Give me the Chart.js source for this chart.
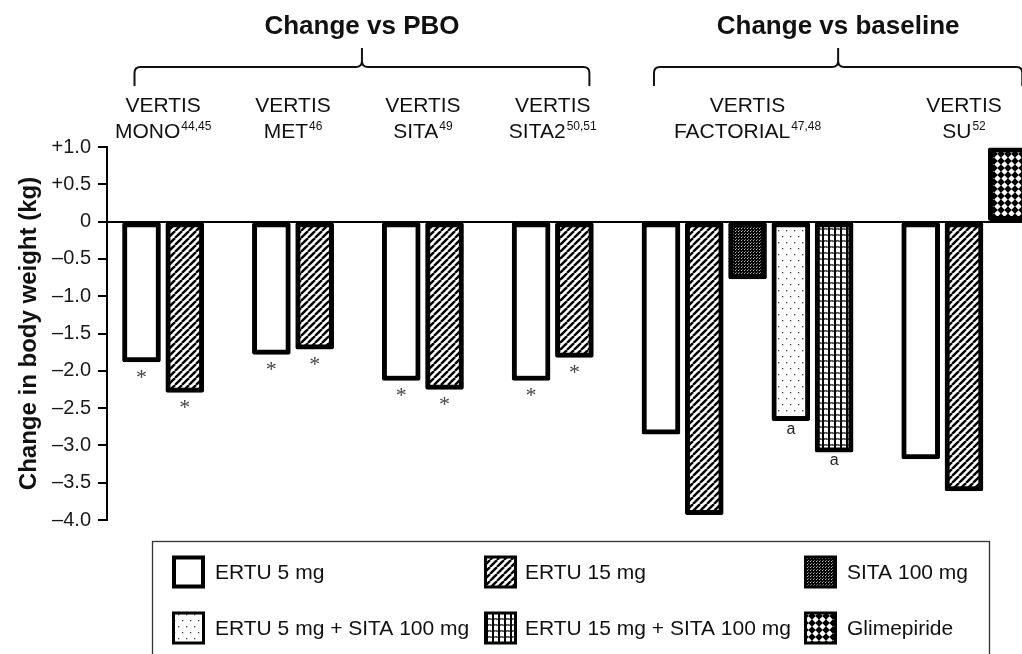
<!DOCTYPE html>
<html>
<head>
<meta charset="utf-8">
<script src="https://cdn.jsdelivr.net/npm/chart.js@4.4.1/dist/chart.umd.min.js"></script>
<style>
html,body{margin:0;padding:0;background:#fff;overflow:hidden}
#wrap{width:1022px;height:654px}
</style>
</head>
<body>
<div id="wrap"><canvas id="grafico" width="1022" height="654"></canvas></div>
<script>
// studies along the x axis
const studies=['MONO','MET','SITA','SITA2','FACTORIAL','SU'];
const studyRefs=['44,45','46','49','50,51','47,48','52'];
const headers=['Change vs PBO','Change vs baseline'];
const headerStudies=[[0,3],[4,5]];
const treatments=['ERTU 5 mg','ERTU 15 mg','SITA 100 mg','ERTU 5 mg + SITA 100 mg','ERTU 15 mg + SITA 100 mg','Glimepiride'];

// change in body weight (kg) per study, null = arm not in that study
const ertu5=[-1.88,-1.78,-2.13,-2.13,-2.85,-3.18];
const ertu15=[-2.29,-1.71,-2.25,-1.82,-3.93,-3.61];
const sita100=[null,null,null,null,-0.77,null];
const ertu5Sita=[null,null,null,null,-2.67,null];
const ertu15Sita=[null,null,null,null,-3.09,null];
const glimepiride=[null,null,null,null,null,0.99];

// marks under the bars
const ertu5Marks=['*','*','*','*','',''];
const ertu15Marks=['*','*','*','*','',''];
const ertu5SitaMarks=['','','','','a',''];
const ertu15SitaMarks=['','','','','a',''];

const yTicks=[1,0.5,0,-0.5,-1,-1.5,-2,-2.5,-3,-3.5,-4];

const FONT='"Liberation Sans", Arial, sans-serif';
Chart.defaults.font.family=FONT;

const canvas=document.getElementById('grafico');
const ctx0=canvas.getContext('2d');

// small tiles used as bar fills
function padrao(w,h,draw){
  const c=document.createElement('canvas'); c.width=w; c.height=h;
  const g=c.getContext('2d'); draw(g,w,h);
  return ctx0.createPattern(c,'repeat');
}
const hachura=padrao(7,7,(g,w,h)=>{
  g.fillStyle='#fff'; g.fillRect(0,0,w,h);
  g.strokeStyle='#000'; g.lineWidth=2.4;
  [-w,0,w].forEach(o=>{ g.beginPath(); g.moveTo(o,h); g.lineTo(o+w,0); g.stroke(); });
});
const escuro=padrao(3,3,(g,w,h)=>{
  g.fillStyle='#000'; g.fillRect(0,0,w,h);
  g.fillStyle='#bbb'; g.fillRect(0,0,1,1); g.fillStyle='#777'; g.fillRect(1,2,1,1);
});
const pontos=padrao(8,12,(g,w,h)=>{
  g.fillStyle='#fff'; g.fillRect(0,0,w,h);
  g.fillStyle='#444'; g.fillRect(2,2,1.3,1.3); g.fillRect(6,8,1.3,1.3);
});
const xadrez=padrao(6,6,(g,w,h)=>{
  g.fillStyle='#fff'; g.fillRect(0,0,w,h);
  g.fillStyle='#555'; g.fillRect(0,0,w,2);
  g.fillStyle='#999'; g.fillRect(1,0,1,1); g.fillRect(3,1,1,1); g.fillRect(5,0,1,1);
  g.fillStyle='#000'; g.fillRect(0,0,2,h);
});
const losangos=padrao(7,7,(g,w,h)=>{
  g.fillStyle='#000'; g.fillRect(0,0,w,h);
  g.fillStyle='#fff'; g.beginPath();
  g.moveTo(3.5,0.3); g.lineTo(6.7,3.5); g.lineTo(3.5,6.7); g.lineTo(0.3,3.5); g.closePath(); g.fill();
});

const series=[ertu5,ertu15,sita100,ertu5Sita,ertu15Sita,glimepiride];
const marks=[ertu5Marks,ertu15Marks,null,ertu5SitaMarks,ertu15SitaMarks,null];
const fills=['#fff',hachura,escuro,pontos,xadrez,losangos];

// slot index of each bar: bars of a study side by side, one empty slot between studies
const slots=series.map(()=>[]);
let pos=0;
studies.forEach((s,i)=>{
  series.forEach((arr,k)=>{ if(arr[i]!==null){ slots[k][i]=pos; pos++; } });
  pos++;
});

const datasets=series.map((arr,k)=>({
  label:treatments[k],
  data:arr.map((v,i)=>v===null?null:{x:slots[k][i],y:v,study:i}).filter(Boolean),
  marks:marks[k],
  backgroundColor:fills[k],
  borderColor:'#000',
  borderWidth:5,
  borderRadius:2,
  borderSkipped:false,
  barThickness:38,
  grouped:false
}));

// headers, brackets, study names, marks and legend
const rotulos={id:'rotulos', afterDraw(chart){
  const ctx=chart.ctx;
  const xs=studies.map(()=>[]);
  ctx.save();
  chart.data.datasets.forEach((ds,k)=>{
    chart.getDatasetMeta(k).data.forEach((el,j)=>{
      const st=ds.data[j].study;
      xs[st].push(el.x);
      const m=ds.marks&&ds.marks[st];
      if(!m) return;
      ctx.textAlign='center'; ctx.textBaseline='alphabetic';
      if(m==='*'){ ctx.fillStyle='#444'; ctx.font='22px "Liberation Serif", serif'; ctx.fillText(m,el.x,el.y+22); }
      else { ctx.fillStyle='#222'; ctx.font='16px '+FONT; ctx.fillText(m,el.x,el.y+13); }
    });
  });

  // study labels
  studies.forEach((s,i)=>{
    const cx=(Math.min(...xs[i])+Math.max(...xs[i]))/2;
    ctx.fillStyle='#111'; ctx.textBaseline='alphabetic'; ctx.textAlign='center';
    ctx.font='21px '+FONT; ctx.fillText('VERTIS',cx,112);
    const w1=ctx.measureText(s).width;
    ctx.font='12px '+FONT; const w2=ctx.measureText(studyRefs[i]).width;
    const x0=cx-(w1+w2+1)/2;
    ctx.textAlign='left';
    ctx.font='21px '+FONT; ctx.fillText(s,x0,138);
    ctx.font='12px '+FONT; ctx.fillText(studyRefs[i],x0+w1+1,130);
  });

  // headers with curly brackets
  headers.forEach((h,n)=>{
    const [a,b]=headerStudies[n];
    let lo=Infinity, hi=-Infinity;
    for(let i=a;i<=b;i++){ lo=Math.min(lo,...xs[i]); hi=Math.max(hi,...xs[i]); }
    const L=lo-7, R=hi+15, C=(L+R)/2, yl=67;
    ctx.fillStyle='#111'; ctx.textAlign='center'; ctx.textBaseline='alphabetic';
    ctx.font='bold 26px '+FONT; ctx.fillText(h,C,34);
    ctx.strokeStyle='#111'; ctx.lineWidth=2;
    ctx.beginPath();
    ctx.moveTo(L,86); ctx.lineTo(L,yl+6); ctx.quadraticCurveTo(L,yl,L+6,yl);
    ctx.lineTo(C-6,yl); ctx.quadraticCurveTo(C,yl,C,yl-6); ctx.lineTo(C,48);
    ctx.moveTo(C,yl-6); ctx.quadraticCurveTo(C,yl,C+6,yl);
    ctx.lineTo(R-6,yl); ctx.quadraticCurveTo(R,yl,R,yl+6); ctx.lineTo(R,86);
    ctx.stroke();
  });

  // legend box
  ctx.strokeStyle='#333'; ctx.lineWidth=1.3;
  ctx.strokeRect(152.5,541.5,837,140);
  const colSw=[172,484,804], colTx=[215,525,847], rowY=[572,628];
  chart.data.datasets.forEach((ds,k)=>{
    const c=k%3, r=Math.floor(k/3), x=colSw[c], y=rowY[r]-16.5;
    ctx.fillStyle='#000'; ctx.fillRect(x,y,33,33);
    const ins=k===0?4:3;
    ctx.fillStyle=ds.backgroundColor; ctx.fillRect(x+ins,y+ins,33-2*ins,33-2*ins);
    ctx.fillStyle='#111'; ctx.textAlign='left'; ctx.textBaseline='middle';
    ctx.font='21px '+FONT; ctx.fillText(ds.label,colTx[c],rowY[r]+1);
  });
  ctx.restore();
}};

new Chart(canvas,{
  type:'bar',
  data:{datasets},
  options:{
    responsive:false,
    animation:false,
    layout:{padding:{top:147,bottom:134,left:0,right:0}},
    plugins:{legend:{display:false},tooltip:{enabled:false}},
    scales:{
      x:{type:'linear',display:false,offset:false,min:-0.797,max:20.34},
      y:{
        min:-4,max:1,
        afterBuildTicks:s=>{ s.ticks=yTicks.map(v=>({value:v})); },
        afterFit:s=>{ s.width=107; },
        border:{display:true,color:'#000',width:2},
        grid:{color:c=>c.tick&&c.tick.value===0?'#000':'rgba(0,0,0,0)',lineWidth:2,tickColor:'#000',tickLength:9,tickWidth:2},
        ticks:{
          font:{size:20},color:'#1a1a1a',padding:7,
          callback:v=>v>0?'+'+v.toFixed(1):(v===0?'0':'\u2013'+Math.abs(v).toFixed(1))
        },
        title:{display:true,text:'Change in body weight (kg)',color:'#111',font:{size:24,weight:'bold'},padding:{top:15,bottom:0}}
      }
    }
  },
  plugins:[rotulos]
});
</script>
</body>
</html>
